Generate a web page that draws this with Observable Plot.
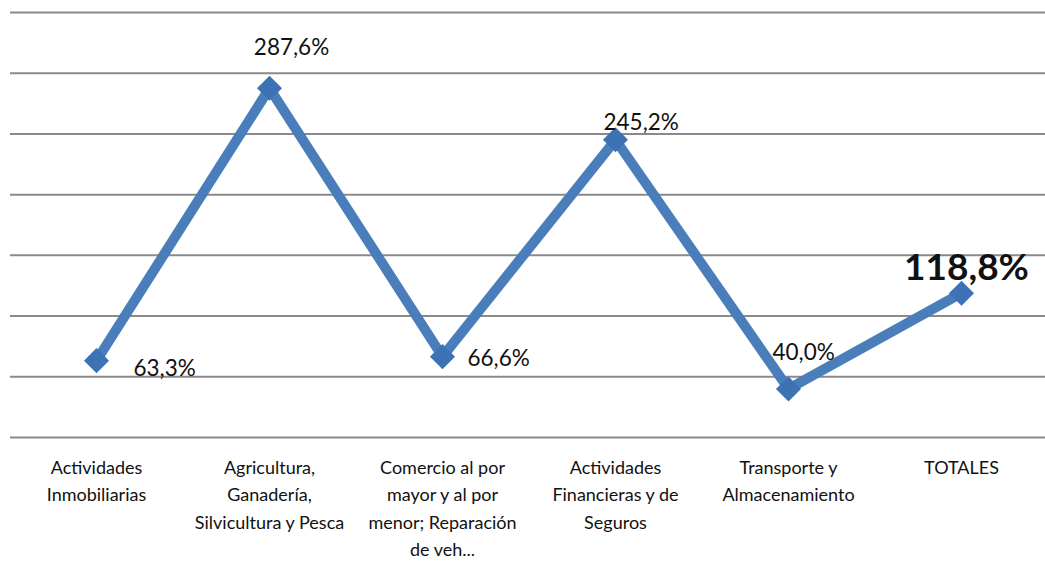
<!DOCTYPE html>
<html>
<head>
<meta charset="utf-8">
<script src="https://cdn.jsdelivr.net/npm/d3@7"></script>
<script src="https://cdn.jsdelivr.net/npm/@observablehq/plot@0.6"></script>
<style>
  html, body { margin: 0; padding: 0; background: #fff; }
  #chart svg { display: block; }
</style>
</head>
<body>
<div id="chart"></div>
<script>
const categories = [
  "Actividades Inmobiliarias",
  "Agricultura, Ganadería, Silvicultura y Pesca",
  "Comercio al por mayor y al por menor; Reparación de veh...",
  "Actividades Financieras y de Seguros",
  "Transporte y Almacenamiento",
  "TOTALES"
];
const tickLabels = [
  "Actividades\nInmobiliarias",
  "Agricultura,\nGanadería,\nSilvicultura y Pesca",
  "Comercio al por\nmayor y al por\nmenor; Reparación\nde veh...",
  "Actividades\nFinancieras y de\nSeguros",
  "Transporte y\nAlmacenamiento",
  "TOTALES"
];
const values = [63.3, 287.6, 66.6, 245.2, 40.0, 118.8];
const gridTicks = [0, 50, 100, 150, 200, 250, 300, 350];

const data = categories.map((c, i) => ({cat: c, value: values[i], tick: tickLabels[i]}));
const fmt = v => v.toFixed(1).replace(".", ",") + "%";

// label placement per point (dx, dy, anchor, bold)
const labelStyle = [
  {dx: 37, dy: 8, anchor: "start", size: 22.5, weight: "normal"},
  {dx: 22, dy: -40, anchor: "middle", size: 22.5, weight: "normal"},
  {dx: 25, dy: 2, anchor: "start", size: 22.5, weight: "normal"},
  {dx: -12, dy: -17, anchor: "start", size: 22.5, weight: "normal"},
  {dx: -16, dy: -36, anchor: "start", size: 22.5, weight: "normal"},
  {dx: 5, dy: -25, anchor: "middle", size: 37, weight: "bold"}
];

const blue = "#4a7ebb";
const font = "Lato, 'Open Sans', sans-serif";

const labelMarks = data.map((d, i) => Plot.text([d], {
  x: "cat", y: "value", text: d => fmt(d.value),
  dx: labelStyle[i].dx, dy: labelStyle[i].dy,
  textAnchor: labelStyle[i].anchor,
  fontSize: labelStyle[i].size, fontWeight: labelStyle[i].weight,
  fill: "#111", fontFamily: font
}));

const chart = Plot.plot({
  width: 1045,
  height: 564,
  marginLeft: 10,
  marginRight: 0,
  marginTop: 12,
  marginBottom: 127,
  style: {fontFamily: font, background: "#fff"},
  x: {type: "point", domain: categories, range: [96, 961], padding: 0, axis: null},
  y: {domain: [0, 350], axis: null},
  marks: [
    Plot.ruleY(gridTicks, {stroke: "#8a8a8a", strokeWidth: 2}),
    Plot.line(data, {x: "cat", y: "value", stroke: blue, strokeWidth: 10, strokeLinejoin: "miter"}),
    Plot.dot(data, {x: "cat", y: "value", symbol: "square", r: 10, rotate: 45, fill: "#3d72b4", stroke: "none"}),
    Plot.text(data, {
      x: "cat", y: () => 0, text: "tick", lineAnchor: "top", dy: 17,
      fontSize: 18, lineHeight: 1.52, fill: "#111", fontFamily: font
    }),
    ...labelMarks
  ]
});
document.getElementById("chart").appendChild(chart);
</script>
</body>
</html>
